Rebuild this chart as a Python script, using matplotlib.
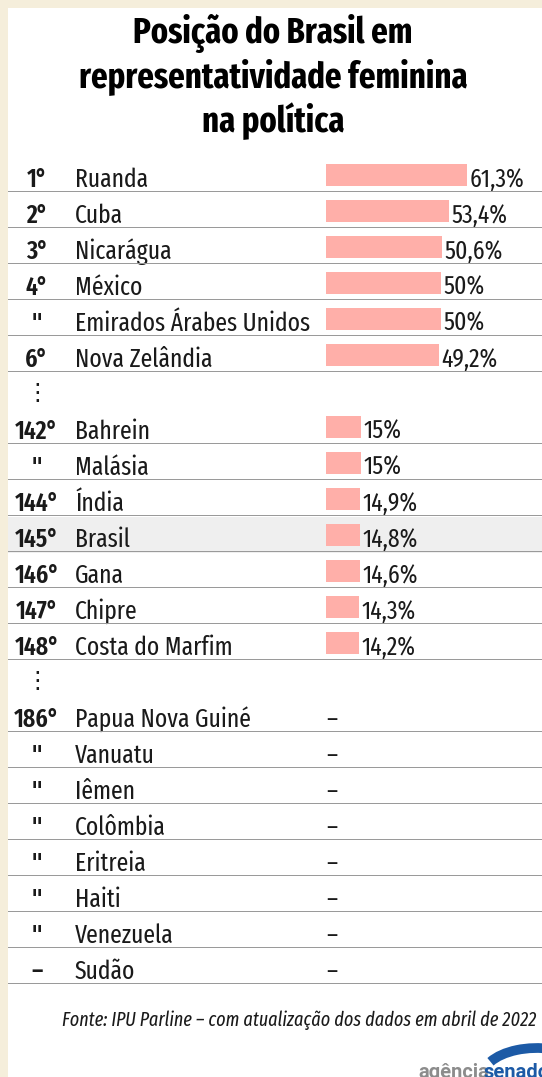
import matplotlib
matplotlib.use("Agg")
import matplotlib.pyplot as plt
from matplotlib import font_manager as fm
from matplotlib.patches import Rectangle, Arc

# ---------------- data ----------------
title_lines = ["Posição do Brasil em", "representatividade feminina", "na política"]
group_ranks = [
    ["1°", "2°", "3°", "4°", '"', "6°"],
    ["142°", '"', "144°", "145°", "146°", "147°", "148°"],
    ["186°", '"', '"', '"', '"', '"', '"', "–"],
]
group_countries = [
    ["Ruanda", "Cuba", "Nicarágua", "México", "Emirados Árabes Unidos", "Nova Zelândia"],
    ["Bahrein", "Malásia", "Índia", "Brasil", "Gana", "Chipre", "Costa do Marfim"],
    ["Papua Nova Guiné", "Vanuatu", "Iêmen", "Colômbia", "Eritreia", "Haiti", "Venezuela", "Sudão"],
]
group_values = [
    [61.3, 53.4, 50.6, 50.0, 50.0, 49.2],
    [15.0, 15.0, 14.9, 14.8, 14.6, 14.3, 14.2],
    [None, None, None, None, None, None, None, None],
]
highlight = "Brasil"
source = "Fonte: IPU Parline – com atualização dos dados em abril de 2022"
logo_parts = ["agência", "senado"]

# ---------------- style ----------------
W, H = 542, 1077
DPI = 100
BEIGE = "#f5eedb"
BAR = "#ffafa9"
HL = "#efefef"
LINE = "#9a9a9a"
TXT = "#1a1a1a"
BLUE = "#1c5aa6"

avail = {f.name for f in fm.fontManager.ttflist}
def pick(*names):
    for n in names:
        if n in avail:
            return n
    return "DejaVu Sans"
COND = pick("Fira Sans Extra Condensed", "PT Sans Narrow", "Fira Sans Condensed", "Barlow Condensed")
FAM = [COND, "DejaVu Sans"]

fig = plt.figure(figsize=(W / DPI, H / DPI), dpi=DPI, facecolor=BEIGE)

# background / decoration axes in pixel coordinates
bg = fig.add_axes([0, 0, 1, 1], zorder=0)
bg.set_xlim(0, W)
bg.set_ylim(H, 0)
bg.axis("off")
bg.add_patch(Rectangle((8, 8), W - 8, H - 8, facecolor="white", edgecolor="none"))

# main table axes
PX_LEFT, PX_ZERO, PX_PER_PCT = 8, 326, 2.3
PX_TOP, PX_BOT = 157, 985
ax = fig.add_axes([PX_LEFT / W, 1 - PX_BOT / H, (W - PX_LEFT) / W, (PX_BOT - PX_TOP) / H], zorder=1)
ax.patch.set_alpha(0)
XMIN, XMAX = (PX_LEFT - PX_ZERO) / PX_PER_PCT, (W - PX_ZERO) / PX_PER_PCT
ax.set_xlim(XMIN, XMAX)

def xpx(px):
    return (px - PX_ZERO) / PX_PER_PCT

# slots: groups separated by one ellipsis slot
rows = []
ellipsis_slots = []
slot = 0
for gi, (rk, ct, vl) in enumerate(zip(group_ranks, group_countries, group_values)):
    for r, c, v in zip(rk, ct, vl):
        rows.append((slot, r, c, v))
        slot += 1
    if gi < len(group_ranks) - 1:
        ellipsis_slots.append(slot)
        slot += 1
nslots = slot
ax.set_ylim(nslots - 0.5, -0.5)
ax.axis("off")

NAME_FS = 18.5
for s, r, c, v in rows:
    if c == highlight:
        ax.axhspan(s - 0.5, s + 0.5, color=HL, zorder=0, lw=0)
    ax.axhline(s + 0.45, color=LINE, lw=0.72, ls="-", zorder=5, snap=True)
    base = s + 0.33
    ax.text(xpx(37), base, r, ha="center", va="baseline", fontsize=NAME_FS,
            family=FAM, weight="semibold", color=TXT, zorder=4)
    ax.text(xpx(75), base, c, ha="left", va="baseline", fontsize=NAME_FS,
            family=FAM, color=TXT, zorder=4)
    if v is None:
        ax.text(0, base, "–", ha="left", va="baseline", fontsize=NAME_FS, family=FAM, color=TXT, zorder=4)
    else:
        lbl = f"{v:g}".replace(".", ",") + "%"
        ax.text(v + 1.1, base, lbl, ha="left", va="baseline", fontsize=NAME_FS, family=FAM,
                color=TXT, zorder=4)

bar_slots = [s for s, r, c, v in rows if v is not None]
bar_vals = [v for s, r, c, v in rows if v is not None]
ax.barh(bar_slots, bar_vals, height=0.62, color=BAR, zorder=2)

for e in ellipsis_slots:
    ax.text(xpx(37), e + 0.05, "⋮", ha="center", va="center", fontsize=17,
            family=["DejaVu Sans"], color=TXT)

# title
for i, line in enumerate(title_lines):
    fig.text(273 / W, 1 - (42 + 45 * i) / H, line, ha="center", va="baseline",
             fontsize=25.5, family=FAM, weight="bold", color="black")

# source
fig.text(62 / W, 1 - 1026 / H, source, ha="left", va="baseline", fontsize=14.2,
         family=FAM, style="italic", color=TXT)

# logo (y axis of bg is inverted, so the upper half of the arc is 180..360)
bg.add_patch(Arc((537, 1076), 108, 56, theta1=197, theta2=360, color=BLUE, lw=7))
bg.text(418, 1078, logo_parts[0], ha="left", va="baseline", fontsize=14.5,
        family=["Roboto", "DejaVu Sans"], weight="bold", color="#8c8c8c")
bg.text(484, 1078, logo_parts[1], ha="left", va="baseline", fontsize=14.5,
        family=["Roboto", "DejaVu Sans"], weight="bold", color=BLUE)

fig.savefig("out.png", dpi=DPI, facecolor=BEIGE)
